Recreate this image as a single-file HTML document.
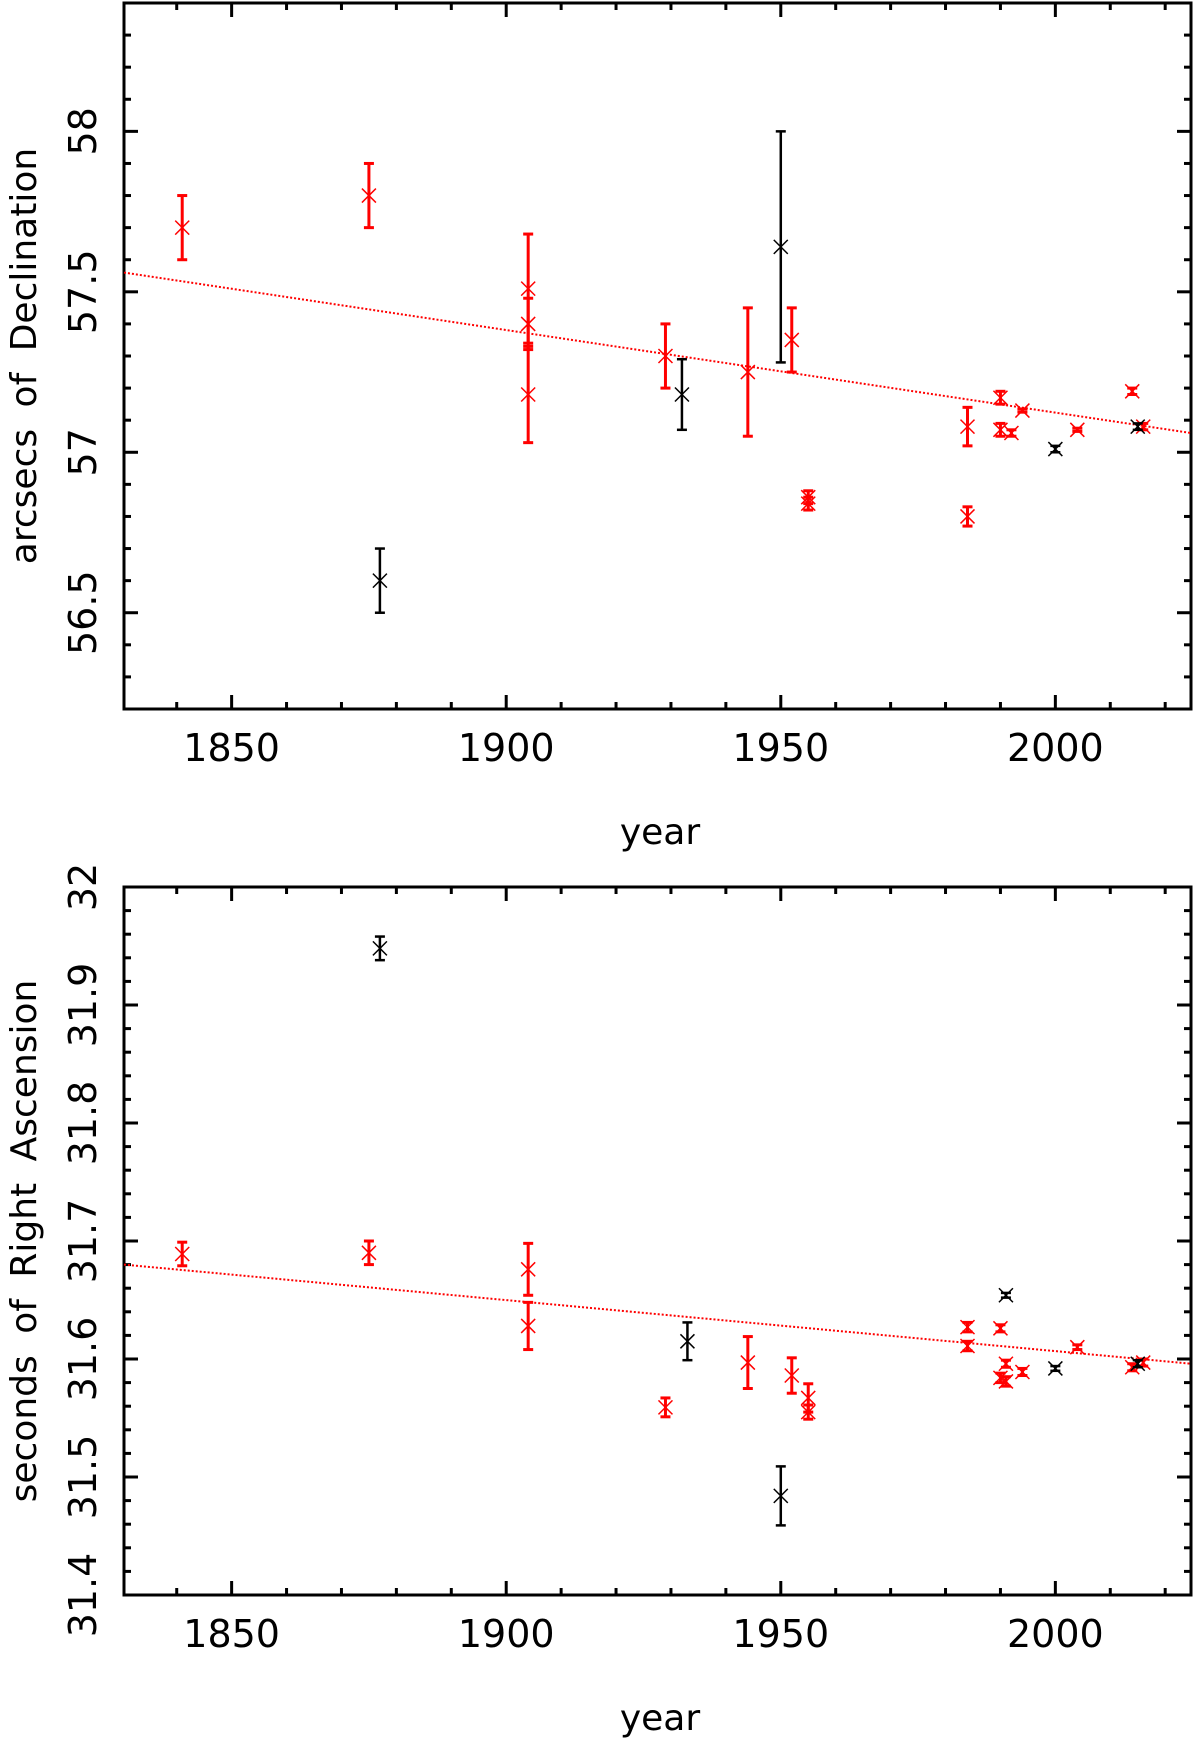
<!DOCTYPE html>
<html><head><meta charset="utf-8"><style>
html,body{margin:0;padding:0;background:#fff;}
svg{display:block;font-family:"DejaVu Sans","Liberation Sans",sans-serif;}
</style></head><body>
<svg id="chart" width="1200" height="1747" viewBox="0 0 1200 1747" xmlns="http://www.w3.org/2000/svg"></svg>
<script>
// ---- data: Declination panel ----
const decRedYears = [1841,1875,1904,1904,1904,1929,1944,1952,1955,1955,1984,1984,1990,1990,1992,1994,2004,2014,2016];
const decRedVals  = [57.70,57.80,57.51,57.40,57.18,57.30,57.25,57.35,56.86,56.84,57.08,56.80,57.17,57.07,57.06,57.13,57.07,57.19,57.08];
const decRedErrs  = [0.10,0.10,0.17,0.08,0.15,0.10,0.20,0.10,0.02,0.02,0.06,0.03,0.02,0.02,0.01,0.005,0.005,0.01,0.01];
const decBlkYears = [1877,1932,1950,2000,2015];
const decBlkVals  = [56.60,57.18,57.64,57.01,57.08];
const decBlkErrs  = [0.10,0.11,0.36,0.01,0.01];
const decTrend    = [57.56,57.06];
// ---- data: Right Ascension panel ----
const raRedYears = [1841,1875,1904,1904,1929,1944,1952,1955,1955,1984,1984,1990,1990,1991,1991,1994,2004,2014,2016];
const raRedVals  = [31.689,31.690,31.676,31.628,31.559,31.597,31.586,31.567,31.555,31.627,31.611,31.626,31.584,31.596,31.581,31.589,31.610,31.593,31.597];
const raRedErrs  = [0.010,0.010,0.022,0.020,0.008,0.022,0.015,0.012,0.006,0.004,0.004,0.003,0.004,0.003,0.004,0.003,0.002,0.003,0.003];
const raBlkYears = [1877,1933,1950,1991,2000,2015];
const raBlkVals  = [31.948,31.615,31.484,31.654,31.592,31.596];
const raBlkErrs  = [0.010,0.016,0.025,0.002,0.002,0.003];
const raTrend    = [31.680,31.596];
const xTickLabels = [1850,1900,1950,2000];
const decTickLabels = [56.5,57,57.5,58];
const raTickLabels = [31.4,31.5,31.6,31.7,31.8,31.9,32];

const NS='http://www.w3.org/2000/svg';
const svg=document.getElementById('chart');
function mk(tag,attrs,parent){const e=document.createElementNS(NS,tag);for(const k in attrs)e.setAttribute(k,attrs[k]);(parent||svg).appendChild(e);return e;}
const X0=1830.4,X1=2024.7,L=124,R=1191;
const xs=v=>L+(v-X0)/(X1-X0)*(R-L);

function panel(cfg){
  const g=mk('g',{});
  
  
  const ys=v=>cfg.B-(v-cfg.y0)/(cfg.y1-cfg.y0)*(cfg.B-cfg.T);
  for(let yr=1840;yr<=2020;yr+=10){
    const maj=yr%50===0, len=maj?14:7, x=xs(yr);
    mk('line',{x1:x,x2:x,y1:cfg.B,y2:cfg.B-len,stroke:'#000','stroke-width':3},g);
    mk('line',{x1:x,x2:x,y1:cfg.T,y2:cfg.T+len,stroke:'#000','stroke-width':3},g);
  }
  const n=Math.round((cfg.y1-cfg.y0)/cfg.minor);
  for(let i=0;i<=n;i++){
    const v=cfg.y0+i*cfg.minor, y=ys(v);
    const maj=Math.abs(v/cfg.major-Math.round(v/cfg.major))<1e-6, len=maj?14:7;
    mk('line',{x1:L,x2:L+len,y1:y,y2:y,stroke:'#000','stroke-width':3},g);
    mk('line',{x1:R,x2:R-len,y1:y,y2:y,stroke:'#000','stroke-width':3},g);
  }
  const frame=mk('rect',{x:L,y:cfg.T,width:R-L,height:cfg.B-cfg.T,fill:'none',stroke:'#000','stroke-width':3},g);
  
  
  xTickLabels.forEach(t=>{
    const tx=mk('text',{x:xs(t),y:cfg.B+52,'font-size':38,'text-anchor':'middle'},g);
    tx.textContent=t;
    
    
  });
  cfg.ticks.forEach(t=>{
    const y=ys(t);
    const tx=mk('text',{x:0,y:0,'font-size':38,'text-anchor':'middle',transform:`translate(96,${y}) rotate(-90)`},g);
    tx.textContent=t;
    
    
  });
  const xt=mk('text',{x:660,y:cfg.B+135,'font-size':36,'text-anchor':'middle'},g);
  xt.textContent='year';
  
  
  const yt=mk('text',{x:0,y:0,'font-size':36,'text-anchor':'middle','word-spacing':'10',transform:`translate(36,${(cfg.T+cfg.B)/2}) rotate(-90)`},g);
  yt.textContent=cfg.title;
  
  
  const tl=mk('line',{x1:L,x2:R,y1:ys(cfg.trend[0]),y2:ys(cfg.trend[1]),stroke:'#f00','stroke-width':2,'stroke-dasharray':'2,2'},g);
  
  
  function pts(years,vals,errs,col,sw,nm){
    years.forEach((yr,i)=>{
      const x=xs(yr),y=ys(vals[i]),y1=ys(vals[i]+errs[i]),y2=ys(vals[i]-errs[i]);
      const p=mk('g',{stroke:col,'stroke-width':sw,fill:'none'},g);
      
      
      mk('line',{x1:x,x2:x,y1:y1,y2:y2},p);
      mk('line',{x1:x-5,x2:x+5,y1:y1,y2:y1},p);
      mk('line',{x1:x-5,x2:x+5,y1:y2,y2:y2},p);
      mk('line',{x1:x-7,x2:x+7,y1:y-7,y2:y+7,'stroke-width':1.5},p);
      mk('line',{x1:x-7,x2:x+7,y1:y+7,y2:y-7,'stroke-width':1.5},p);
    });
  }
  pts(cfg.ry,cfg.rv,cfg.re,'#f00',3,'red-point');
  pts(cfg.by,cfg.bv,cfg.be,'#000',2.5,'black-point');
}
panel({name:'declination-panel',T:3,B:709,y0:56.2,y1:58.4,minor:0.1,major:0.5,ticks:decTickLabels,title:'arcsecs of Declination',trend:decTrend,
  ry:decRedYears,rv:decRedVals,re:decRedErrs,by:decBlkYears,bv:decBlkVals,be:decBlkErrs});
panel({name:'right-ascension-panel',T:887,B:1595,y0:31.4,y1:32.0,minor:0.02,major:0.1,ticks:raTickLabels,title:'seconds of Right Ascension',trend:raTrend,
  ry:raRedYears,rv:raRedVals,re:raRedErrs,by:raBlkYears,bv:raBlkVals,be:raBlkErrs});
</script>
</body></html>
